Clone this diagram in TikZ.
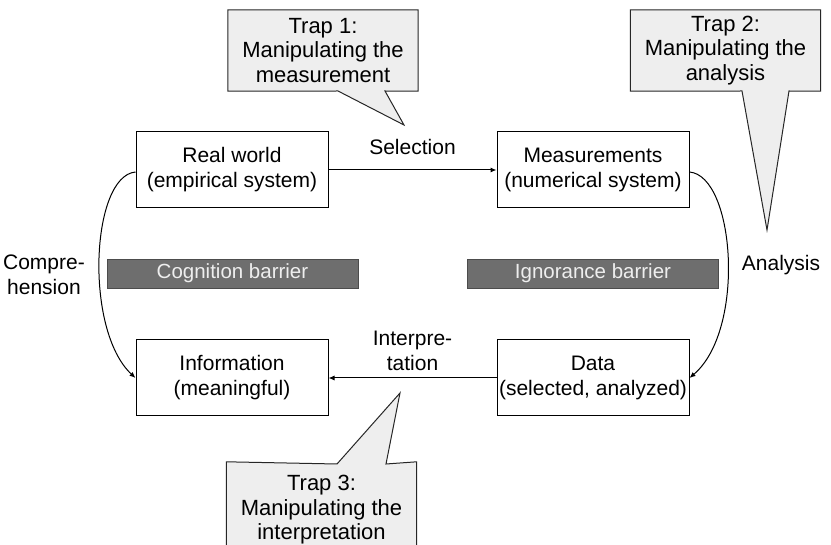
\documentclass[tikz,border=0pt]{standalone}
\usepackage{fontspec}
\setmainfont{Liberation Sans}
\usetikzlibrary{arrows.meta,backgrounds}
\definecolor{callfill}{HTML}{EEEEEE}
\definecolor{barfill}{HTML}{6E6E6E}
\definecolor{bartext}{HTML}{EEEEEE}
\tikzset{
  base/.style={font=\fontsize{21}{25}\selectfont, align=center},
  stagebox/.style={base, draw=black, line width=1pt, fill=white,
    minimum width=192pt, minimum height=76pt, inner sep=0pt},
  barrier/.style={base, font=\fontsize{20.5}{25}\selectfont, draw=black!70,
    line width=0.8pt, fill=barfill, text=bartext,
    minimum width=251pt, minimum height=29pt, inner sep=0pt},
  calltext/.style={base, font=\fontsize{22}{24.5}\selectfont,
    minimum width=190pt, minimum height=81pt, inner sep=0pt},
  callshape/.style={draw=black!85, line width=1pt, fill=callfill, line join=miter},
  flow/.style={line width=1pt, -{Latex[length=6pt,width=5pt]}},
  lbl/.style={base}
}
\begin{document}
\begin{tikzpicture}[x=1pt, y=-1pt]
  \clip (0,0) rectangle (831,545);

  % four stages
  \node[stagebox] (real) at (232,170) {Real world\\(empirical system)};
  \node[stagebox] (meas) at (593,170) {Measurements\\(numerical system)};
  \node[stagebox] (info) at (232,378) {Information\\(meaningful)};
  \node[stagebox] (data) at (593,378) {Data\\(selected, analyzed)};

  % barriers
  \node[barrier] (cog) at (232.5,273.5) {Cognition barrier};
  \node[barrier] (ign) at (593,273.5) {Ignorance barrier};

  % transitions
  \draw[flow] (real.east) -- (meas.west)
    node[lbl, midway, above=11pt] (sel) {Selection};
  \draw[flow] (data.west) -- (info.east)
    node[lbl, midway, above=3pt] (intp) {Interpre-\\tation};
  \draw[flow] ([yshift=-2pt]meas.east) .. controls (735,176) and (746,330) .. (data.east);
  \draw[flow] ([yshift=-2pt]real.west) .. controls (91,176) and (84,330) .. (info.west);
  \node[lbl] (ana) at (781,265) {Analysis};
  \node[lbl] (comp) at (44,275) {Compre-\\hension};

  % traps
  \node[calltext] (t1) at (323,50.5) {Trap 1:\\Manipulating the\\measurement};
  \node[calltext] (t2) at (725.5,50.5) {Trap 2:\\Manipulating the\\analysis};
  \node[calltext, minimum height=96pt] (t3) at (321.5,510) {Trap 3:\\Manipulating the\\interpretation};
  \coordinate (p1) at (404,125);
  \coordinate (p2) at (767,230);
  \coordinate (p3) at (400,393);
  \begin{scope}[on background layer]
    \path[callshape] (t1.south west) -- (t1.north west) -- (t1.north east)
      -- (t1.south east) -- (385,91) -- (p1) -- (338,91) -- cycle;
    \path[callshape] (t2.south west) -- (t2.north west) -- (t2.north east)
      -- (t2.south east) -- (789,91) -- (p2) -- (742,91) -- cycle;
    \path[callshape] (t3.north west) -- (337,464) -- (p3) -- (386,464)
      -- (t3.north east) -- (t3.south east) -- (t3.south west) -- cycle;
  \end{scope}
\end{tikzpicture}
\end{document}
